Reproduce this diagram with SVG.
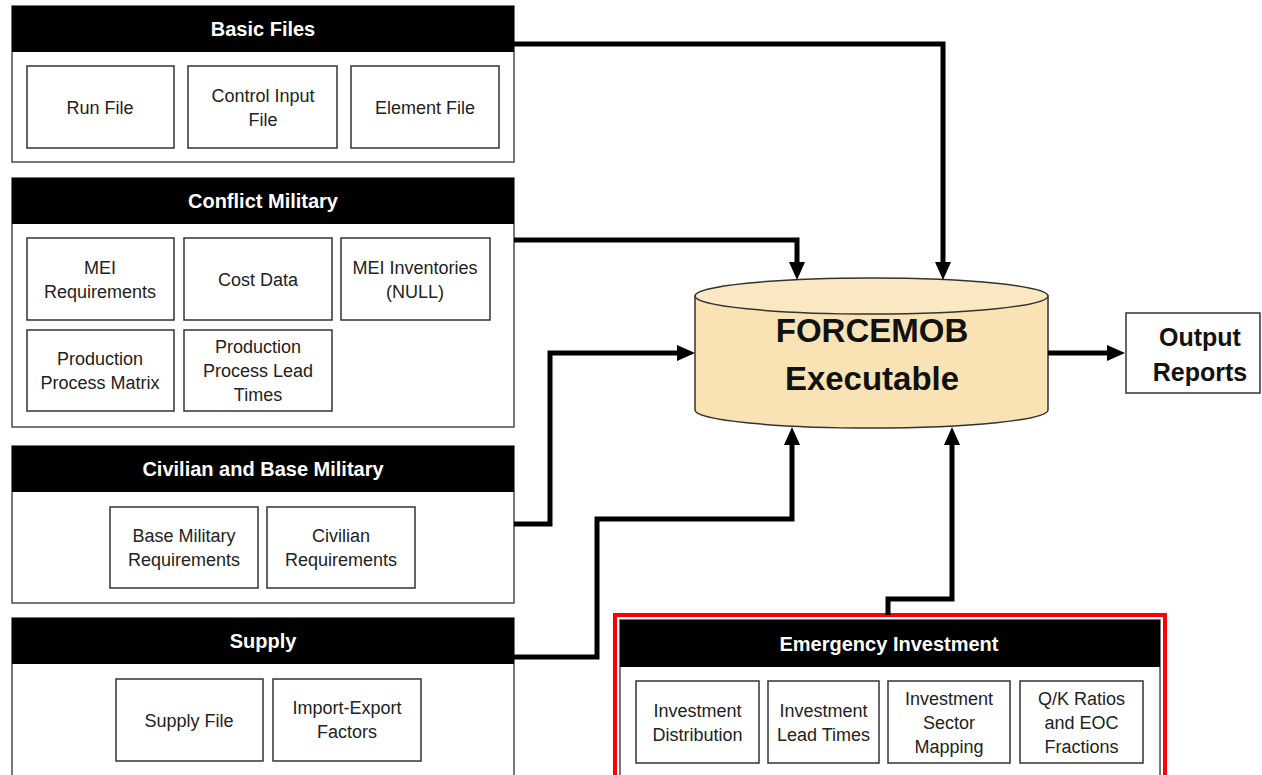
<svg xmlns="http://www.w3.org/2000/svg" width="1262" height="775" viewBox="0 0 1262 775">
<style>
.panel{fill:#fff;stroke:#4a4a4a;stroke-width:1.5}
.hdr{fill:#000}
.box{fill:#fff;stroke:#333;stroke-width:1.5}
.ht{font-family:"Liberation Sans",Arial,sans-serif;font-weight:bold;font-size:20px;fill:#fff;text-anchor:middle}
.bt{font-family:"Liberation Sans",Arial,sans-serif;font-size:18px;fill:#222;text-anchor:middle}
.big{font-family:"Liberation Sans",Arial,sans-serif;font-weight:bold;font-size:33px;fill:#111;text-anchor:middle}
.out{font-family:"Liberation Sans",Arial,sans-serif;font-weight:bold;font-size:25px;fill:#111;text-anchor:middle}
.conn{fill:none;stroke:#000;stroke-width:5;stroke-linejoin:miter}
</style>
<defs>
<marker id="ah" viewBox="0 0 18 16" refX="8" refY="8" markerWidth="18" markerHeight="16" markerUnits="userSpaceOnUse" orient="auto">
<path d="M0,0 L18,8 L0,16 Z" fill="#000"/>
</marker>
</defs>
<rect width="1262" height="775" fill="#fff"/>

<g id="basic-files">
<rect class="panel" x="12" y="6" width="502" height="156"/>
<rect class="hdr" x="12" y="6" width="502" height="46"/>
<text class="ht" x="263" y="36">Basic Files</text>
<rect class="box" x="27" y="66" width="147" height="82"/>
<text class="bt" x="100" y="113.5">Run File</text>
<rect class="box" x="188" y="66" width="149" height="82"/>
<text class="bt" x="263" y="101.5">Control Input</text>
<text class="bt" x="263" y="125.5">File</text>
<rect class="box" x="351" y="66" width="148" height="82"/>
<text class="bt" x="425" y="113.5">Element File</text>
</g>

<g id="conflict-military">
<rect class="panel" x="12" y="178" width="502" height="249"/>
<rect class="hdr" x="12" y="178" width="502" height="46"/>
<text class="ht" x="263" y="208">Conflict Military</text>
<rect class="box" x="27" y="238" width="147" height="82"/>
<text class="bt" x="100" y="273.5">MEI</text>
<text class="bt" x="100" y="297.5">Requirements</text>
<rect class="box" x="184" y="238" width="148" height="82"/>
<text class="bt" x="258" y="285.5">Cost Data</text>
<rect class="box" x="341" y="238" width="149" height="82"/>
<text class="bt" x="415" y="273.5">MEI Inventories</text>
<text class="bt" x="415" y="297.5">(NULL)</text>
<rect class="box" x="27" y="330" width="147" height="81"/>
<text class="bt" x="100" y="365">Production</text>
<text class="bt" x="100" y="389">Process Matrix</text>
<rect class="box" x="184" y="330" width="148" height="81"/>
<text class="bt" x="258" y="353">Production</text>
<text class="bt" x="258" y="377">Process Lead</text>
<text class="bt" x="258" y="401">Times</text>
</g>

<g id="civilian-base-military">
<rect class="panel" x="12" y="446" width="502" height="157"/>
<rect class="hdr" x="12" y="446" width="502" height="46"/>
<text class="ht" x="263" y="476">Civilian and Base Military</text>
<rect class="box" x="110" y="507" width="148" height="81"/>
<text class="bt" x="184" y="542">Base Military</text>
<text class="bt" x="184" y="566">Requirements</text>
<rect class="box" x="267" y="507" width="148" height="81"/>
<text class="bt" x="341" y="542">Civilian</text>
<text class="bt" x="341" y="566">Requirements</text>
</g>

<g id="supply">
<rect class="panel" x="12" y="618" width="502" height="180"/>
<rect class="hdr" x="12" y="618" width="502" height="46"/>
<text class="ht" x="263" y="648">Supply</text>
<rect class="box" x="116" y="679" width="147" height="82"/>
<text class="bt" x="189" y="726.5">Supply File</text>
<rect class="box" x="273" y="679" width="148" height="82"/>
<text class="bt" x="347" y="714">Import-Export</text>
<text class="bt" x="347" y="738">Factors</text>
</g>

<g id="emergency-investment">
<rect x="615" y="615" width="550" height="180" fill="none" stroke="#ff0000" stroke-width="4"/>
<rect class="panel" x="620" y="620" width="540" height="170"/>
<rect class="hdr" x="620" y="620" width="540" height="47"/>
<text class="ht" x="889" y="651">Emergency Investment</text>
<rect class="box" x="636" y="681" width="123" height="82"/>
<text class="bt" x="697.5" y="717">Investment</text>
<text class="bt" x="697.5" y="741">Distribution</text>
<rect class="box" x="768" y="681" width="111" height="82"/>
<text class="bt" x="823.5" y="717">Investment</text>
<text class="bt" x="823.5" y="741">Lead Times</text>
<rect class="box" x="888" y="681" width="122" height="82"/>
<text class="bt" x="949" y="705">Investment</text>
<text class="bt" x="949" y="729">Sector</text>
<text class="bt" x="949" y="753">Mapping</text>
<rect class="box" x="1020" y="681" width="123" height="82"/>
<text class="bt" x="1081.5" y="705">Q/K Ratios</text>
<text class="bt" x="1081.5" y="729">and EOC</text>
<text class="bt" x="1081.5" y="753">Fractions</text>
</g>

<g id="forcemob">
<path d="M695,296 L695,410 A176.5,18 0 0 0 1048,410 L1048,296 Z" fill="#f9e3b4" stroke="#333" stroke-width="1.5"/>
<ellipse cx="871.5" cy="296" rx="176.5" ry="18" fill="#fae8c2" stroke="#333" stroke-width="1.5"/>
<text class="big" x="872" y="342">FORCEMOB</text>
<text class="big" x="872" y="390">Executable</text>
</g>

<g id="output-reports">
<rect class="box" x="1126" y="313" width="134" height="80"/>
<text class="out" x="1200" y="346">Output</text>
<text class="out" x="1200" y="381">Reports</text>
</g>

<g id="connectors">
<path class="conn" d="M514,44 H943 V270" marker-end="url(#ah)"/>
<path class="conn" d="M514,240 H797 V270" marker-end="url(#ah)"/>
<path class="conn" d="M514,524 H550 V353 H685" marker-end="url(#ah)"/>
<path class="conn" d="M514,657 H597 V519 H792 V437" marker-end="url(#ah)"/>
<path class="conn" d="M888,615 V599 H952 V437" marker-end="url(#ah)"/>
<path class="conn" d="M1048,353 H1115" marker-end="url(#ah)"/>
</g>
</svg>
